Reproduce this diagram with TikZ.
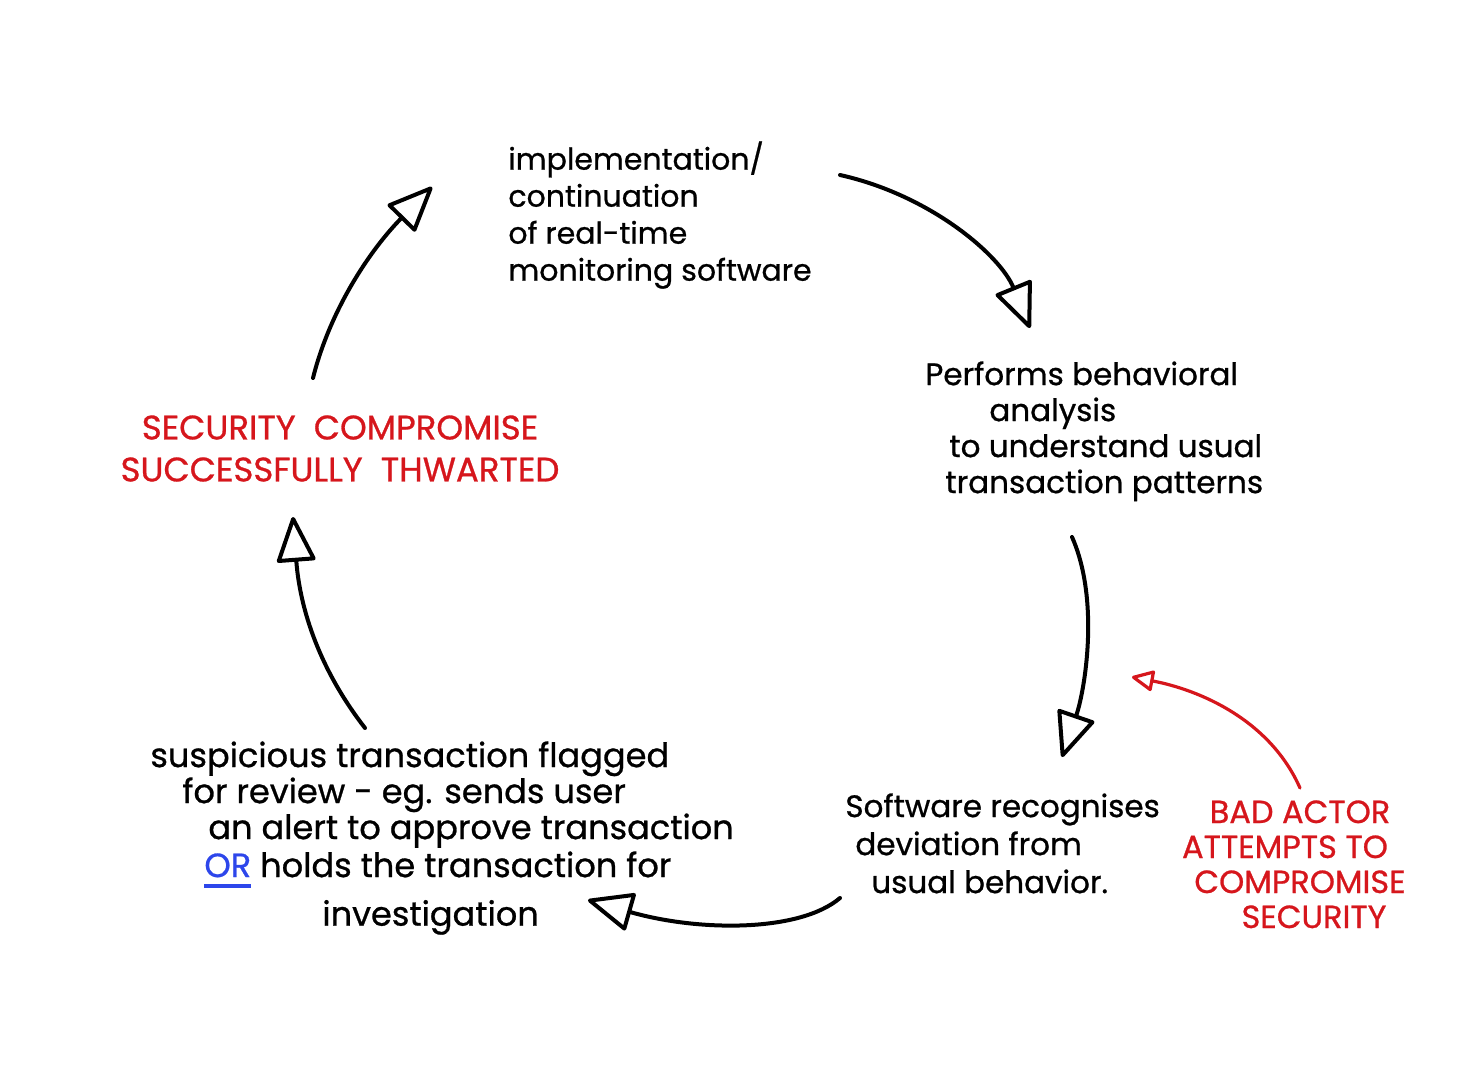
\documentclass[tikz,border=0pt]{standalone}
\usepackage{fontspec}
\setmainfont{Poppins}[FakeBold=0.8]
\usetikzlibrary{arrows.meta}
\definecolor{inkred}{RGB}{214,22,28}
\definecolor{inkblue}{RGB}{45,70,235}
\newcommand\blueOR{\textcolor{inkblue}{\setbox0\hbox{OR}\rlap{\rule[-5.5pt]{\wd0}{2pt}}\box0}}
\begin{document}
\begin{tikzpicture}[x=0.5pt,y=-0.5pt,
  txt/.style={inner sep=0pt, align=left, text=black, anchor=north west},
  redtxt/.style={inner sep=0pt, align=center, text=inkred, anchor=north},
  arr/.style={line width=2pt, line cap=round, -{Triangle[open,length=24pt,width=20pt,line join=round]}},
  redarr/.style={line width=1.6pt, line cap=round, draw=inkred, -{Triangle[open,length=12pt,width=11pt,line join=round]}}]
\useasboundingbox (0,0) rectangle (1480,1078);
\fill[white] (0,0) rectangle (1480,1078);

% text nodes
\node[txt, font=\fontsize{15}{18.5}\selectfont] (top) at (508,141) {implementation/\\continuation\\of real-time\\monitoring software};
\node[txt, font=\fontsize{15.5}{18}\selectfont] (right) at (925,361) {Performs behavioral\\\hspace*{32pt}analysis\\\hspace*{12pt}to understand usual\\\hspace*{10pt}transaction patterns};
\node[txt, font=\fontsize{15.5}{19}\selectfont] (soft) at (845,793) {Software recognises\\\hspace*{5pt}deviation from\\\hspace*{13pt}usual behavior.};
\node[txt, font=\fontsize{16.8}{18}\selectfont] (flag) at (150,741) {suspicious transaction flagged\\\hspace*{16pt}for review - eg. sends user\\\hspace*{29pt}an alert to approve transaction\\[1pt]\hspace*{27pt}\blueOR\ holds the transaction for\\[5pt]\hspace*{86pt}investigation};
\node[redtxt, font=\fontsize{17}{21}\selectfont] (thw) at (340,415) {SECURITY\ \ COMPROMISE\\SUCCESSFULLY\ \ THWARTED};
\node[redtxt, font=\fontsize{16}{17.5}\selectfont] (bad) at (1300,800) {BAD ACTOR\\ATTEMPTS TO\hspace*{15pt}\mbox{}\\COMPROMISE\\\hspace*{14pt}SECURITY};

% connector end points
\coordinate (a1s) at (840,175);
\coordinate (a1e) at (1030,328);
\coordinate (a2s) at (1072,537);
\coordinate (a2e) at (1062,757);
\coordinate (a3s) at (840,898);
\coordinate (a3e) at (588,900);
\coordinate (a4s) at (365,728);
\coordinate (a4e) at (293,517);
\coordinate (a5s) at (313,378);
\coordinate (a5e) at (432,187);
\coordinate (rs) at (1300,788);
\coordinate (re) at (1132,677);

% connectors
\draw[arr] (a1s) .. controls (930,195) and (1000,255) .. (a1e);
\draw[arr] (a2s) .. controls (1100,600) and (1085,690) .. (a2e);
\draw[arr] (a3s) .. controls (800,932) and (700,932) .. (a3e);
\draw[arr] (a4s) .. controls (320,670) and (300,610) .. (a4e);
\draw[arr] (a5s) .. controls (330,310) and (370,250) .. (a5e);
\draw[redarr] (rs) .. controls (1270,720) and (1200,690) .. (re);
\end{tikzpicture}
\end{document}
